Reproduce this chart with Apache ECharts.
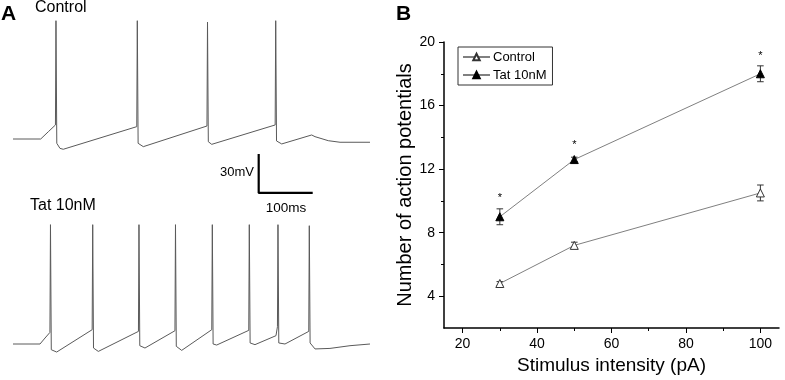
<!DOCTYPE html>
<html><head><meta charset="utf-8">
<script src="https://cdn.jsdelivr.net/npm/echarts@6/dist/echarts.min.js"></script>
<style>html,body{margin:0;padding:0;background:#fff}#c{width:785px;height:380px}</style>
</head><body><div id="c"></div>
<script>
// Panel B data
const stim = [30, 50, 100];
const ctrlMean = [4.8, 7.2, 10.5];
const ctrlErr = [0.12, 0.2, 0.5];
const tatMean = [9.0, 12.6, 18.0];
const tatErr = [0.5, 0.15, 0.5];
const sigY = [10.4, 13.7, 19.3];
const yTicks = [4, 8, 12, 16, 20];
const yMinor = [6, 10, 14, 18];
const xTicks = [20, 40, 60, 80, 100];
const xMinor = [30, 50, 70, 90];

// Panel A traces (time ms, membrane potential mV)
const ctrlT = [0, 51.3, 65.4, 78.6, 79.6, 81.1, 87.0, 93.1, 229.2, 230.2, 231.7, 241.3, 359.2, 360.2, 361.7, 368.0, 485.5, 486.5, 488.0, 497.6, 553.1, 559.3, 583.9, 605.6, 661.1];
const ctrlV = [-60, -60, -54.4, -49.2, 31, -63.3, -67.2, -67.9, -50.5, 31, -63.3, -65.9, -50, 30, -62.1, -64.1, -49.2, 31, -61.5, -63.8, -56.9, -58.2, -61.3, -62.5, -62.5];
const tatT = [0, 50, 59.3, 68.4, 69.4, 70.9, 80.9, 146.6, 147.6, 149.1, 158, 232.3, 233.3, 234.8, 244.4, 299.9, 300.9, 302.4, 312.4, 368.1, 369.1, 370.6, 377.2, 436.6, 437.6, 439.1, 448.1, 487, 489.7, 490.7, 492.2, 503.7, 547.7, 548.7, 550.2, 559.3, 587, 624.1, 661.1];
const tatV = [-60, -60, -55.4, -51.1, 31.8, -64.4, -66.2, -49, 31.8, -63.1, -65.7, -50.3, 31.8, -61.3, -63.1, -49.8, 31.8, -61.8, -64.9, -49, 31.8, -60, -60.8, -49.5, 31.8, -59.2, -60.5, -53.6, -46.7, 31.8, -59.2, -60, -50.3, 31, -59.2, -63.8, -63.4, -61.3, -60];
// scale bar: 30 mV, 100 ms
const scaleT = [455, 455, 555];
const scaleV = [-71.5, -101.5, -101.5];

const FONT = 'Liberation Sans, Arial, sans-serif';
const zip = (a, b) => a.map((v, i) => [v, b[i]]);

const chart = echarts.init(document.getElementById('c'), null, {renderer: 'canvas'});

function errRender(params, api) {
  const x = api.value(0), lo = api.value(1), hi = api.value(2);
  const a = api.coord([x, hi]), b = api.coord([x, lo]);
  const w = 3.3, st = {stroke: '#333', lineWidth: 1};
  return {type: 'group', children: [
    {type: 'line', shape: {x1: a[0], y1: a[1], x2: b[0], y2: b[1]}, style: st},
    {type: 'line', shape: {x1: a[0] - w, y1: a[1], x2: a[0] + w, y2: a[1]}, style: st},
    {type: 'line', shape: {x1: b[0] - w, y1: b[1], x2: b[0] + w, y2: b[1]}, style: st}
  ]};
}
function starRender(params, api) {
  const p = api.coord([api.value(0), api.value(1)]);
  return {type: 'text', x: p[0], y: p[1] + 3, style: {text: '*', font: '11px ' + FONT, fill: '#000', textAlign: 'center', textVerticalAlign: 'middle'}};
}

const option = {
  animation: false,
  backgroundColor: '#fff',
  textStyle: {fontFamily: FONT},
  grid: [
    {left: 444, top: 42, width: 335, height: 286},
    {left: 13, top: 9, width: 378, height: 195},
    {left: 13, top: 214, width: 378, height: 156}
  ],
  xAxis: [
    {gridIndex: 0, type: 'value', min: 15, max: 105,
     axisLine: {lineStyle: {color: '#000', width: 1.5}},
     axisTick: {customValues: xTicks, length: 5, lineStyle: {color: '#000', width: 1}},
     axisLabel: {customValues: xTicks, color: '#000', fontSize: 14, margin: 9, fontFamily: FONT},
     splitLine: {show: false},
     name: 'Stimulus intensity (pA)', nameLocation: 'middle', nameGap: 24,
     nameTextStyle: {fontSize: 19, color: '#000', fontFamily: FONT}},
    {gridIndex: 0, type: 'value', min: 15, max: 105, position: 'bottom',
     axisLine: {show: false},
     axisTick: {customValues: xMinor, length: 3, lineStyle: {color: '#000', width: 1}},
     axisLabel: {show: false}, splitLine: {show: false}},
    {gridIndex: 1, type: 'value', min: 0, max: 700, show: false},
    {gridIndex: 2, type: 'value', min: 0, max: 700, show: false}
  ],
  yAxis: [
    {gridIndex: 0, type: 'value', min: 2, max: 20,
     axisLine: {show: true, lineStyle: {color: '#000', width: 1.5}},
     axisTick: {show: true, customValues: yTicks, length: 5, lineStyle: {color: '#000', width: 1}},
     axisLabel: {customValues: yTicks, color: '#000', fontSize: 14, margin: 9, fontFamily: FONT},
     splitLine: {show: false},
     name: 'Number of action potentials', nameLocation: 'middle', nameGap: 26,
     nameTextStyle: {fontSize: 20, color: '#000', fontFamily: FONT}},
    {gridIndex: 0, type: 'value', min: 2, max: 20, position: 'left',
     axisLine: {show: false},
     axisTick: {show: true, customValues: yMinor, length: 3, lineStyle: {color: '#000', width: 1}},
     axisLabel: {show: false}, splitLine: {show: false}},
    {gridIndex: 1, type: 'value', min: -110, max: 40, show: false},
    {gridIndex: 2, type: 'value', min: -80, max: 40, show: false}
  ],
  legend: {
    data: ['Control', 'Tat 10nM'], orient: 'vertical', left: 458, top: 47,
    itemWidth: 27, itemHeight: 8, itemGap: 4, padding: [3, 6, 3, 4],
    borderColor: '#333', borderWidth: 1,
    textStyle: {fontSize: 13, color: '#000', fontFamily: FONT, padding: [0, 0, 0, -2], lineHeight: 14}
  },
  series: [
    {type: 'custom', xAxisIndex: 0, yAxisIndex: 0, renderItem: errRender, z: 2,
     data: stim.map((x, i) => [x, ctrlMean[i] - ctrlErr[i], ctrlMean[i] + ctrlErr[i]])},
    {type: 'custom', xAxisIndex: 0, yAxisIndex: 0, renderItem: errRender, z: 2,
     data: stim.map((x, i) => [x, tatMean[i] - tatErr[i], tatMean[i] + tatErr[i]])},
    {name: 'Control', type: 'line', xAxisIndex: 0, yAxisIndex: 0, z: 3,
     data: zip(stim, ctrlMean), symbol: 'triangle', symbolSize: 8,
     lineStyle: {color: '#808080', width: 1},
     itemStyle: {color: '#fff', borderColor: '#333', borderWidth: 1}},
    {name: 'Tat 10nM', type: 'line', xAxisIndex: 0, yAxisIndex: 0, z: 3,
     data: zip(stim, tatMean), symbol: 'triangle', symbolSize: 8,
     lineStyle: {color: '#808080', width: 1},
     itemStyle: {color: '#000', borderColor: '#000', borderWidth: 1}},
    {type: 'custom', xAxisIndex: 0, yAxisIndex: 0, renderItem: starRender, z: 4,
     data: zip(stim, sigY)},
    {type: 'line', xAxisIndex: 2, yAxisIndex: 2, data: zip(ctrlT, ctrlV), showSymbol: false,
     lineStyle: {color: '#5a5a5a', width: 1}, silent: true},
    {type: 'line', xAxisIndex: 3, yAxisIndex: 3, data: zip(tatT, tatV), showSymbol: false,
     lineStyle: {color: '#5a5a5a', width: 1}, silent: true},
    {type: 'line', xAxisIndex: 2, yAxisIndex: 2, data: zip(scaleT, scaleV), showSymbol: false,
     lineStyle: {color: '#000', width: 2.2}, silent: true, clip: false}
  ],
  graphic: [
    {type: 'text', left: 1, top: 4, style: {text: 'A', font: 'bold 21px ' + FONT, fill: '#000'}},
    {type: 'text', left: 396, top: 4, style: {text: 'B', font: 'bold 21px ' + FONT, fill: '#000'}},
    {type: 'text', x: 35, y: 8, style: {text: 'Control', font: '16px ' + FONT, fill: '#000', textVerticalAlign: 'middle'}},
    {type: 'text', x: 30, y: 206, style: {text: 'Tat 10nM', font: '16px ' + FONT, fill: '#000', textVerticalAlign: 'middle'}},
    {type: 'text', x: 254, y: 172, style: {text: '30mV', font: '13px ' + FONT, fill: '#000', textAlign: 'right', textVerticalAlign: 'middle'}},
    {type: 'text', x: 286, y: 208, style: {text: '100ms', font: '13.5px ' + FONT, fill: '#000', textAlign: 'center', textVerticalAlign: 'middle'}}
  ]
};
chart.setOption(option);
</script></body></html>
